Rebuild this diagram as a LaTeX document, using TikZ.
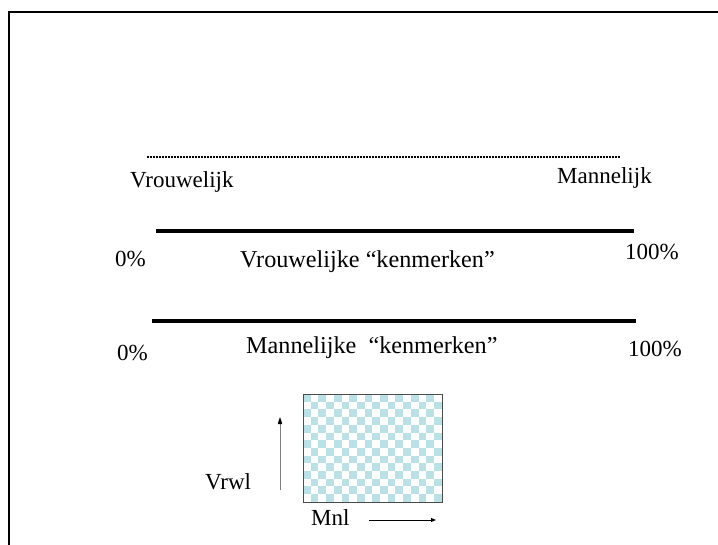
\documentclass[tikz,border=0pt]{standalone}
\usepackage{fontspec}
\setmainfont{Liberation Serif}
\usetikzlibrary{arrows.meta}
\definecolor{checkc}{RGB}{186,225,229}
\definecolor{shaftgray}{RGB}{128,128,128}
\tikzset{
  lbl/.style={inner sep=0pt, font=\fontsize{23}{27}\selectfont},
  biglbl/.style={inner sep=0pt, font=\fontsize{24.2}{28}\selectfont},
  thickbar/.style={line width=4.5pt},
  arr/.style={-{Triangle[length=5pt,width=4pt]}, line width=1pt},
}
\begin{document}
\begin{tikzpicture}[x=1pt,y=-1pt]
\useasboundingbox (0,0) rectangle (718,545);
% frame
\draw[line width=2pt] (9,546) -- (9,12) -- (719,12);
% dotted line
\coordinate (d1) at (147,157);
\coordinate (d2) at (620,157);
\draw[line width=2.4pt, dash pattern=on 1.6pt off 1.4pt] (d1) -- (d2);
\node[lbl, anchor=west] (vr) at (130,181.5) {Vrouwelijk};
\node[lbl, anchor=west] (mn) at (557,178) {Mannelijk};
% bar 1
\coordinate (a1) at (156,231);
\coordinate (a2) at (634,231);
\draw[thickbar] (a1) -- (a2);
\node[lbl, anchor=west] (z1) at (115,259) {0\%};
\node[biglbl, anchor=west] (vk) at (240,262) {Vrouwelijke “kenmerken”};
\node[lbl, anchor=west] (h1) at (625,252) {100\%};
% bar 2
\coordinate (b1) at (152,321);
\coordinate (b2) at (636,321);
\draw[thickbar] (b1) -- (b2);
\node[lbl, anchor=west] (z2) at (117,353) {0\%};
\node[biglbl, anchor=west] (mk) at (246,348) {Mannelijke \ “kenmerken”};
\node[lbl, anchor=west] (h2) at (628,349) {100\%};
% checker box
\begin{scope}
\clip (303,394) rectangle (442,502);
\fill[white] (303,394) rectangle (442,502);
\foreach \i in {0,...,18}{
  \foreach \j in {0,...,14}{
    \pgfmathtruncatemacro{\cpar}{mod(\i+\j,2)}
    \ifnum\cpar=0
      \fill[checkc] ({303+\i*7.7},{394+\j*7.7}) rectangle ++(7.7,7.7);
    \fi
  }
}
\end{scope}
\node[draw=black!70, line width=1pt, inner sep=0pt, minimum width=139pt, minimum height=108pt, anchor=north west] (box) at (303,394) {};
% arrows
\coordinate (u1) at (280,490);
\coordinate (u2) at (280,418);
\draw[arr, shaftgray] (u1) -- (u2);
\fill (280,417) -- (277.8,424) -- (282.2,424) -- cycle;
\node[lbl, anchor=west] (vw) at (205,482) {Vrwl};
\node[lbl, anchor=west] (ml) at (311,518) {Mnl};
\coordinate (r1) at (369,520);
\coordinate (r2) at (436,520);
\draw[arr] (r1) -- (r2);
\end{tikzpicture}
\end{document}
